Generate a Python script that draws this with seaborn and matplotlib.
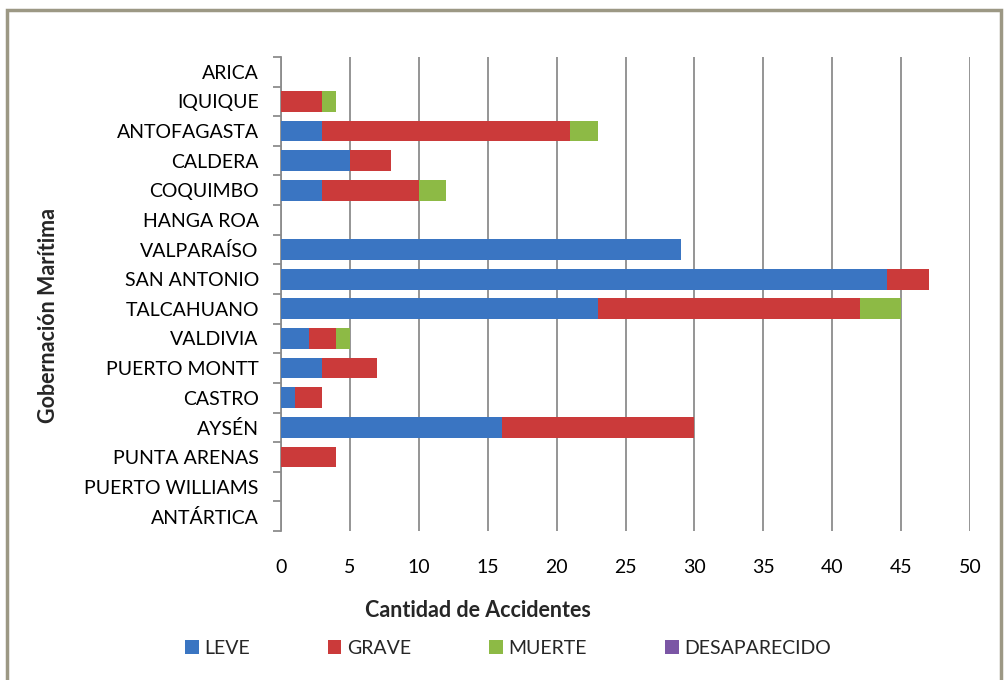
import matplotlib

matplotlib.use("Agg")

import matplotlib.pyplot as plt
import pandas as pd
import seaborn as sns
from matplotlib.patches import Patch, Rectangle

gobernaciones = [
    "ARICA", "IQUIQUE", "ANTOFAGASTA", "CALDERA", "COQUIMBO", "HANGA ROA",
    "VALPARAÍSO", "SAN ANTONIO", "TALCAHUANO", "VALDIVIA", "PUERTO MONTT",
    "CASTRO", "AYSÉN", "PUNTA ARENAS", "PUERTO WILLIAMS", "ANTÁRTICA",
]
leve = [0, 0, 3, 5, 3, 0, 29, 44, 23, 2, 3, 1, 16, 0, 0, 0]
grave = [0, 3, 18, 3, 7, 0, 0, 3, 19, 2, 4, 2, 14, 4, 0, 0]
muerte = [0, 1, 2, 0, 2, 0, 0, 0, 3, 1, 0, 0, 0, 0, 0, 0]
desaparecido = [0] * 16

series = ["LEVE", "GRAVE", "MUERTE", "DESAPARECIDO"]
colors = ["#3A75C2", "#CB3A3A", "#8DBA45", "#7B56A5"]

df = pd.DataFrame({"gob": gobernaciones, "LEVE": leve, "GRAVE": grave,
                   "MUERTE": muerte, "DESAPARECIDO": desaparecido})
cum = df[series].cumsum(axis=1)

sns.set_theme(style="white")
plt.rcParams["font.family"] = ["Lato", "DejaVu Sans"]

fig = plt.figure(figsize=(10.08, 6.8), dpi=100)
ax = fig.add_axes([0.2788, 0.2191, 0.6835, 0.6971])

# draw cumulative totals from the outermost segment inward
for name, color in reversed(list(zip(series, colors))):
    sns.barplot(x=cum[name], y=df["gob"], order=gobernaciones, orient="h",
                color=color, width=0.7, saturation=1, linewidth=0, ax=ax, zorder=3)

ax.set_xlim(0, 50)
ax.set_xticks(range(0, 51, 5))
ax.grid(axis="x", color="#8c8c8c", linewidth=1.3, zorder=0)
ax.grid(axis="y", visible=False)
for s in ["top", "right", "bottom"]:
    ax.spines[s].set_visible(False)
ax.spines["left"].set_color("#8c8c8c")
ax.spines["left"].set_linewidth(1.3)

ax.tick_params(axis="x", length=0, pad=20, labelsize=14, labelcolor="black")
ax.tick_params(axis="y", which="major", length=0, pad=16, labelsize=14, labelcolor="black")
ax.set_yticks([i - 0.5 for i in range(len(gobernaciones) + 1)], minor=True)
ax.tick_params(axis="y", which="minor", left=True, length=6, width=1.3, color="#8c8c8c")
ax.set_ylim(len(gobernaciones) - 0.5, -0.5)

ax.set_xlabel("Cantidad de Accidentes", fontsize=15.5, fontweight="bold")
ax.set_ylabel("Gobernación Marítima", fontsize=15.5, fontweight="bold", labelpad=18)
ax.xaxis.set_label_coords(0.286, -0.145)
ax.yaxis.label.set_y(0.454)

handles = [Patch(facecolor=c, edgecolor="none") for c in colors]
fig.legend(handles, series, loc="center", bbox_to_anchor=(0.504, 0.047), ncol=4,
           frameon=False, fontsize=14, handlelength=0.7, handleheight=0.7,
           handletextpad=0.3, columnspacing=4.0)

fig.patches.append(Rectangle((7 / 1008, -0.05), 994 / 1008, 1.05 - 10 / 680,
                             transform=fig.transFigure, fill=False,
                             edgecolor="#9C9884", linewidth=2.5))

fig.savefig("out.png", dpi=100)
